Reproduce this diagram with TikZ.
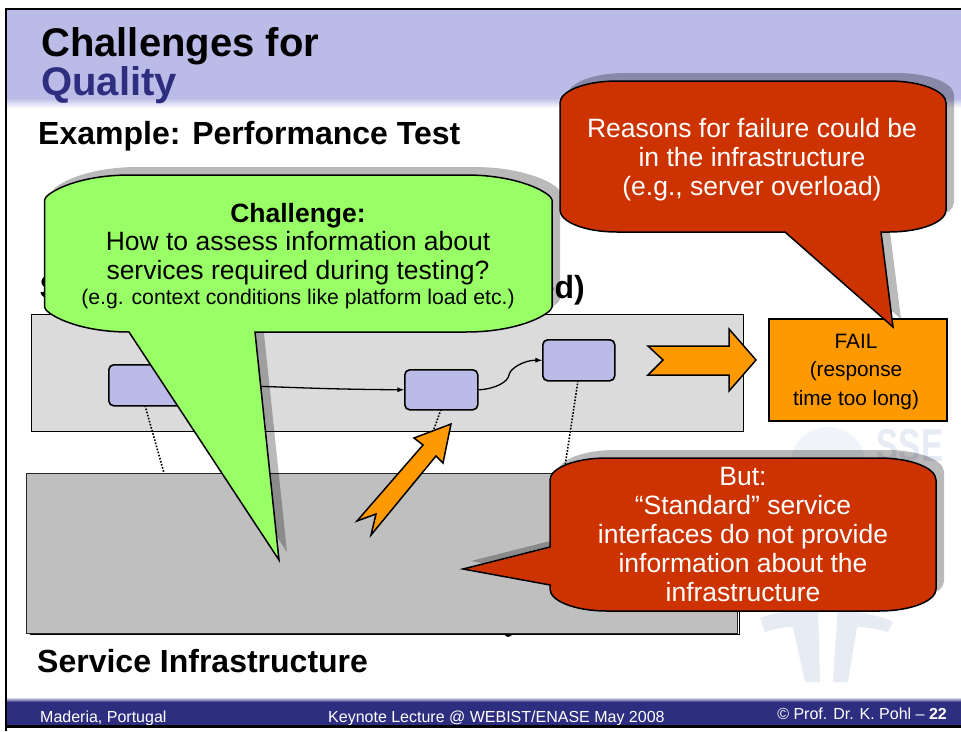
\documentclass[tikz,border=0pt]{standalone}
\usepackage{fontspec}
\setmainfont{Liberation Sans}
\definecolor{hdr}{HTML}{BBBBE8}
\definecolor{navy}{HTML}{2E2E80}
\definecolor{grn}{HTML}{99FF66}
\definecolor{redc}{HTML}{CC3300}
\definecolor{org}{HTML}{FF9900}
\definecolor{wm}{HTML}{E6EBF4}
\newcommand{\fs}[1]{\fontsize{#1}{#1}\selectfont}
\tikzset{
  x=1pt,y=-1pt,
  call/.style={draw=black,line width=1.5pt,line join=miter},
  shad/.style={fill=black,fill opacity=0.27,draw=none},
  srv/.style={draw=black,line width=1.6pt,fill=hdr,rounded corners=5pt},
  big/.style={font=\bfseries\fs{32},anchor=base west,inner sep=0},
  foot/.style={font=\fs{16},text=white,anchor=base west,inner sep=0},
  link/.style={draw=black,line width=1.3pt,-latex},
  dots/.style={draw=black,line width=1.6pt,dash pattern=on 1.6pt off 1.6pt},
  arr/.style={draw=black,line width=1.5pt,fill=org,line join=miter},
  lines/.style={align=center,inner sep=0,text=white,font=\fs{26.5}},
}
% callout bodies
\newcommand{\greenpath}{(44.5,200) .. controls (44.5,194) and (75,175) .. (130,175) -- (466,175) .. controls (521,175) and (552,194) .. (552,200) -- (552,307) .. controls (552,313) and (521,332) .. (466,332) -- (255,332) -- (279,560) -- (129,332) .. controls (75,332) and (44.5,313) .. (44.5,307) -- cycle}
\newcommand{\redApath}{(560,103) .. controls (560,91) and (585,81) .. (617,81) -- (889,81) .. controls (921,81) and (946,91) .. (946,103) -- (946,210) .. controls (946,222) and (921,232) .. (889,232) -- (881,232) -- (893,327) -- (785,232) -- (617,232) .. controls (585,232) and (560,222) .. (560,210) -- cycle}
\newcommand{\redBpath}{(550,480) .. controls (550,468) and (575,458) .. (607,458) -- (879,458) .. controls (911,458) and (936,468) .. (936,480) -- (936,589) .. controls (936,601) and (911,611) .. (879,611) -- (607,611) .. controls (575,611) and (550,601) .. (550,589) -- (550,585) -- (463,569) -- (550,547) -- cycle}
\begin{document}
\begin{tikzpicture}
\useasboundingbox (0,0) rectangle (961,731);
\fill[white] (0,0) rectangle (961,731);
% header and footer bands
\fill[hdr] (6,9) rectangle (961,98);
\shade[top color=hdr,bottom color=white] (6,98) rectangle (961,108);
% watermark
\fill[wm!55] (828,465) circle (38);
\node[font=\bfseries\fs{46},text=wm,inner sep=0,anchor=base,xscale=.72] (sse) at (910,461) {SSE};
\fill[wm] (760,618) .. controls (790,606) and (860,606) .. (893,622) -- (888,632) .. controls (878,629) and (868,627) .. (857,627) -- (848,682) -- (833,682) -- (838,605) -- (818,605) -- (820,682) -- (805,682) -- (793,627) .. controls (783,627) and (775,629) .. (765,632) -- cycle;
\shade[top color=white,bottom color=navy] (6,697) rectangle (961,702);
\fill[navy] (6,702) rectangle (961,725);
\node[foot] (foot1) at (40,722.5) {Maderia, Portugal};
\node[foot] (foot2) at (328,722.5) {Keynote Lecture @ WEBIST/ENASE May 2008};
\node[foot,anchor=base east] (foot3) at (947,719) {© Prof. Dr. K. Pohl – \textbf{22}};
\fill[white] (6,725.5) rectangle (961,731);
% frame
\draw[black,line width=2.4pt] (6,731) -- (6,9) -- (961,9);
\draw[black,line width=2.4pt] (6,726.5) -- (961,726.5);
% titles
\node[font=\bfseries\fs{40},anchor=base west,inner sep=0] (t1) at (41,56) {Challenges for};
\node[font=\bfseries\fs{40},text=navy,anchor=base west,inner sep=0] (t2) at (41,95) {Quality};
\node[big] (t3) at (38,144) {Example: Performance Test};
\node[big] (t4) at (39.5,298.5) {S};
\node[big,anchor=base east] (t5) at (585,298.5) {ed)};
\node[big] (t6) at (37,672.5) {Service Infrastructure};
% upper box
\node[draw=black,line width=.9pt,fill=black!14,minimum width=712pt,minimum height=117pt,inner sep=0,anchor=north west] (upper) at (31,314) {};
% services
\node[srv,minimum width=73pt,minimum height=41pt,inner sep=0,anchor=north west] (sa) at (108,364) {};
\node[srv,minimum width=73pt,minimum height=40pt,inner sep=0,anchor=north west] (sb) at (404,369) {};
\node[srv,minimum width=72pt,minimum height=41pt,inner sep=0,anchor=north west] (sc) at (542,339) {};
\coordinate (da) at (164,473);
\coordinate (db) at (430,440);
\coordinate (dc) at (564,473);
\draw[dots] (145,405.5) -- (da);
\draw[dots] (441,409.5) -- (db);
\draw[dots] (578,380.5) -- (dc);
\draw[link] (sa.east) .. controls (270,385) and (290,389) .. (sb.west);
\draw[link] (sb.east) .. controls (495,389) and (508,382) .. (509,375) .. controls (510,368) and (525,360) .. (sc.west);
% lower box
\fill[black] (504,634) .. controls (506,638) and (511,638) .. (513,633) -- cycle;
\draw[black,line width=.8pt] (735,472) -- (739,472) -- (739,634) -- (30,634);
\node[draw=black!85,line width=.9pt,fill=black!25,minimum width=711pt,minimum height=160pt,inner sep=0,anchor=north west] (lower) at (26,473) {};
% orange arrows
\draw[arr] (648,346) -- (729,346) -- (729,329) -- (756,360) -- (729,391) -- (729,375) -- (648,375) -- (663,360) -- cycle;
\draw[arr] (451,424) -- (443,463) -- (436,456) -- (371,535) -- (376,514) -- (357,521) -- (423,445) -- (414,438) -- cycle;
% fail box
\node[draw=black,line width=1.5pt,fill=org,minimum width=178pt,minimum height=102pt,inner sep=0,anchor=north west] (fail) at (768,318) {};
\node[align=center,inner sep=0,font=\fs{20.8}] (failt) at (856,371.5) {FAIL\\[7.7pt](response\\[7.7pt]time too long)};
% callouts
\fill[shad,shift={(8,-8)}] \redApath;
\draw[call,fill=redc] \redApath;
\node[lines] (ra) at (752,159.5) {Reasons for failure could be\\[2.5pt]in the infrastructure\\[2.5pt](e.g., server overload)};
\fill[shad,shift={(8,-8)}] \redBpath;
\draw[call,fill=redc] \redBpath;
\node[lines] (rb) at (743,534.5) {But:\\[2.5pt]“Standard” service\\[2.5pt]interfaces do not provide\\[2.5pt]information about the\\[2.5pt]infrastructure};
\fill[shad,shift={(8,-8)}] \greenpath;
\draw[call,fill=grn] \greenpath;
\node[align=center,inner sep=0,font=\fs{26.5}] (gt) at (298,256) {\textbf{Challenge:}\\[2pt]How to assess information about\\[2.3pt]services required during testing?\\[-1pt]{\fs{21.2}(e.g. context conditions like platform load etc.)}};
\end{tikzpicture}
\end{document}
